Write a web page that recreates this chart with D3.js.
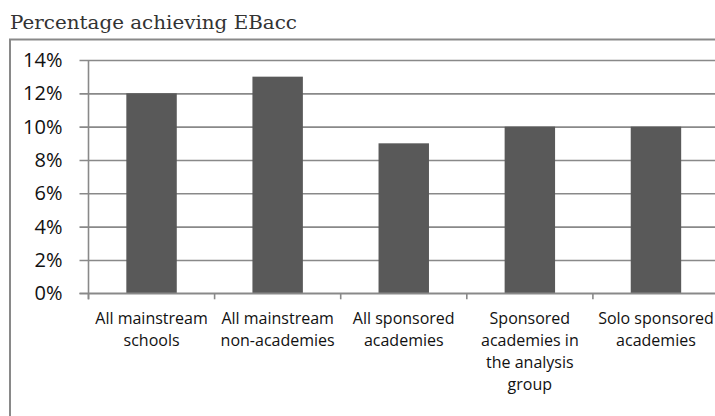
<!DOCTYPE html>
<html>
<head>
<meta charset="utf-8">
<script src="https://cdn.jsdelivr.net/npm/d3@7"></script>
<style>
  html, body { margin: 0; padding: 0; background: #fff; }
  svg { display: block; }
</style>
</head>
<body>
<svg id="chart" width="715" height="416"></svg>
<script>
// EBacc achievement by school group
const categories = [
  ["All mainstream", "schools"],
  ["All mainstream", "non-academies"],
  ["All sponsored", "academies"],
  ["Sponsored", "academies in", "the analysis", "group"],
  ["Solo sponsored", "academies"]
];
const values = [12, 13, 9, 10, 10];
const yTicks = [0, 2, 4, 6, 8, 10, 12, 14];
const title = "Percentage achieving EBacc";

const svg = d3.select("#chart");
const gridColor = "#898989";
const barColor = "#595959";

const keys = categories.map((c, i) => i);
const x = d3.scaleBand().domain(keys).range([88.5, 719]).padding(0);
const y = d3.scaleLinear().domain([0, 14]).range([293.3, 60]);

// Title
svg.append("text")
  .attr("x", 10).attr("y", 28.5)
  .attr("font-family", "DejaVu Serif")
  .attr("font-size", 18)
  .attr("fill", "#333")
  .attr("textLength", 287)
  .attr("lengthAdjust", "spacingAndGlyphs")
  .text(title);

// Chart frame (left and top edges)
svg.append("path")
  .attr("d", "M10,416 V39.5 H715")
  .attr("fill", "none")
  .attr("stroke", gridColor)
  .attr("stroke-width", 2);

// Horizontal gridlines with tick stubs
const yAxis = d3.axisLeft(y)
  .tickValues(yTicks)
  .tickSize(-(715 - 88.5))
  .tickSizeOuter(0)
  .tickPadding(0)
  .tickFormat(d => d + "%");

const yg = svg.append("g")
  .attr("transform", "translate(88.5,0)")
  .call(yAxis);
yg.select(".domain").remove();
yg.selectAll(".tick line")
  .attr("x1", -9)
  .attr("stroke", gridColor)
  .attr("stroke-width", 1.6);
yg.selectAll(".tick text")
  .attr("x", -26)
  .attr("dy", "0.33em")
  .attr("font-family", "Open Sans")
  .attr("font-size", 20)
  .attr("fill", "#111");

// Vertical axis line
svg.append("line")
  .attr("x1", 88.5).attr("x2", 88.5)
  .attr("y1", y(14)).attr("y2", y(0) + 6)
  .attr("stroke", gridColor)
  .attr("stroke-width", 1.6);

// Bars
const barW = x.bandwidth() * 0.4;
svg.append("g").selectAll("rect")
  .data(values)
  .join("rect")
  .attr("x", (d, i) => x(i) + (x.bandwidth() - barW) / 2)
  .attr("y", d => y(d))
  .attr("width", barW)
  .attr("height", d => y(0) - y(d))
  .attr("fill", barColor);

// Category axis
const xAxis = d3.axisBottom(x).tickSize(0).tickFormat("");
const xg = svg.append("g")
  .attr("transform", `translate(0,${y(0)})`)
  .call(xAxis);
xg.select(".domain").remove();

// Category boundary ticks
svg.append("g").selectAll("line")
  .data(keys.concat([keys.length]))
  .join("line")
  .attr("x1", i => i < keys.length ? x(i) : x(keys.length - 1) + x.bandwidth())
  .attr("x2", i => i < keys.length ? x(i) : x(keys.length - 1) + x.bandwidth())
  .attr("y1", y(0))
  .attr("y2", y(0) + 6)
  .attr("stroke", gridColor)
  .attr("stroke-width", 1.6);

// Baseline
svg.append("line")
  .attr("x1", 79.5).attr("x2", 715)
  .attr("y1", y(0)).attr("y2", y(0))
  .attr("stroke", gridColor)
  .attr("stroke-width", 1.6);

// Category labels (wrapped lines)
const labels = svg.append("g")
  .attr("font-family", "Open Sans")
  .attr("font-size", 16)
  .attr("fill", "#111")
  .attr("text-anchor", "middle");
categories.forEach((lines, i) => {
  const t = labels.append("text")
    .attr("x", x(i) + x.bandwidth() / 2)
    .attr("y", 323.5);
  lines.forEach((ln, j) => {
    t.append("tspan")
      .attr("x", x(i) + x.bandwidth() / 2)
      .attr("dy", j === 0 ? 0 : 22)
      .text(ln);
  });
});
</script>
</body>
</html>
